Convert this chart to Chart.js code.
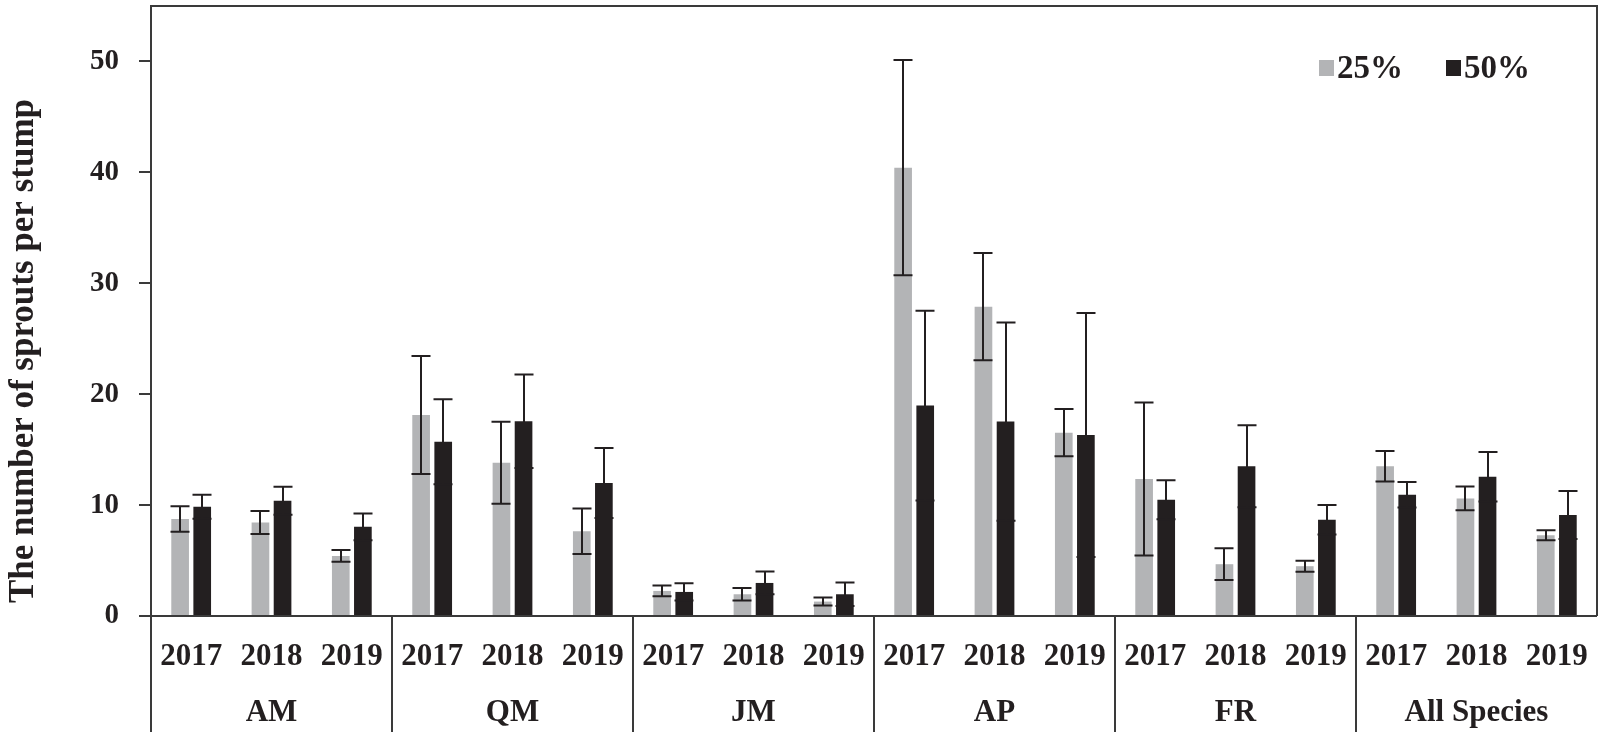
<!DOCTYPE html>
<html><head><meta charset="utf-8">
<style>html,body{margin:0;padding:0;background:#fff}#wrap{width:1600px;height:732px;position:relative}</style>
<script src="https://cdn.jsdelivr.net/npm/chart.js@4/dist/chart.umd.min.js"></script>
</head><body><div id="wrap"><canvas id="c" width="1600" height="732"></canvas></div>
<script>
const species = ['AM', 'QM', 'JM', 'AP', 'FR', 'All Species'];
const years = ['2017', '2018', '2019'];
const seriesNames = ['25%', '50%'];
const mean25 = [8.75, 8.43, 5.42, 18.13, 13.82, 7.65, 2.26, 1.96, 1.30, 40.42, 27.89, 16.53, 12.35, 4.67, 4.49, 13.50, 10.60, 7.29];
const err25  = [1.15, 1.03, 0.53, 5.32, 3.70, 2.05, 0.48, 0.57, 0.36, 9.70, 4.83, 2.13, 6.90, 1.43, 0.50, 1.38, 1.07, 0.45];
const mean50 = [9.85, 10.39, 8.04, 15.72, 17.56, 11.99, 2.17, 2.98, 1.96, 18.97, 17.53, 16.32, 10.48, 13.50, 8.67, 10.93, 12.56, 9.10];
const err50  = [1.08, 1.27, 1.21, 3.83, 4.21, 3.16, 0.78, 1.03, 1.05, 8.55, 8.94, 11.00, 1.75, 3.70, 1.33, 1.15, 2.23, 2.16];
const yTicks = [0, 10, 20, 30, 40, 50];
const yMax = 55;
const yTitle = 'The number of sprouts per stump';

const FONT = "'Liberation Serif', 'Times New Roman', serif";
const INK = '#231f20';
const AXIS = '#3a3a3a';
const GRAY = '#b3b4b6';

const labels = [];
species.forEach(s => years.forEach(y => labels.push(s + '|' + y)));
const errors = [err25, err50];

const errorBars = {
  id: 'errorBars',
  afterDatasetsDraw(chart) {
    const ctx = chart.ctx, ys = chart.scales.y;
    ctx.save();
    ctx.strokeStyle = INK; ctx.lineWidth = 2;
    chart.data.datasets.forEach((ds, di) => {
      const meta = chart.getDatasetMeta(di);
      meta.data.forEach((el, i) => {
        const m = ds.data[i], e = errors[di][i];
        const x = Math.round(el.x);
        const yt = ys.getPixelForValue(m + e), yb = ys.getPixelForValue(m - e);
        ctx.beginPath();
        ctx.moveTo(x, yt); ctx.lineTo(x, yb);
        ctx.moveTo(x - 9.5, yt); ctx.lineTo(x + 9.5, yt);
        ctx.moveTo(x - 9.5, yb); ctx.lineTo(x + 9.5, yb);
        ctx.stroke();
      });
    });
    ctx.restore();
  }
};

const frame = {
  id: 'frame',
  afterDraw(chart) {
    const ctx = chart.ctx, a = chart.chartArea, xs = chart.scales.x, ys = chart.scales.y;
    const H = chart.height;
    const base = ys.getPixelForValue(0);
    ctx.save();
    ctx.strokeStyle = AXIS; ctx.lineWidth = 2;
    ctx.beginPath();
    ctx.moveTo(a.left, H); ctx.lineTo(a.left, a.top);
    ctx.lineTo(a.right, a.top); ctx.lineTo(a.right, base);
    ctx.moveTo(a.left, base); ctx.lineTo(a.right, base);
    for (let g = 1; g < species.length; g++) {
      const xp = (xs.getPixelForValue(g * 3 - 1) + xs.getPixelForValue(g * 3)) / 2;
      ctx.moveTo(xp, base); ctx.lineTo(xp, H);
    }
    ctx.stroke();
    // group labels
    ctx.fillStyle = INK;
    ctx.font = 'bold 31px ' + FONT;
    ctx.textAlign = 'center'; ctx.textBaseline = 'middle';
    species.forEach((s, g) => {
      ctx.fillText(s, xs.getPixelForValue(g * 3 + 1), 713);
    });
    // y title
    ctx.save();
    ctx.translate(24, 351);
    ctx.rotate(-Math.PI / 2);
    ctx.font = 'bold 35px ' + FONT;
    ctx.fillText(yTitle, 0, 0);
    ctx.restore();
    // legend
    ctx.font = 'bold 33px ' + FONT;
    ctx.textAlign = 'left';
    const legX = [1319, 1446];
    chart.data.datasets.forEach((ds, di) => {
      ctx.fillStyle = ds.backgroundColor;
      ctx.fillRect(legX[di], 60, 15, 16);
      ctx.fillStyle = INK;
      ctx.fillText(ds.label, legX[di] + 18, 69);
    });
    ctx.restore();
  }
};

new Chart(document.getElementById('c'), {
  type: 'bar',
  data: {
    labels,
    datasets: [
      { label: seriesNames[0], data: mean25, backgroundColor: GRAY, categoryPercentage: 0.55, barPercentage: 0.8 },
      { label: seriesNames[1], data: mean50, backgroundColor: INK, categoryPercentage: 0.55, barPercentage: 0.8 }
    ]
  },
  options: {
    responsive: false,
    animation: false,
    layout: { padding: { top: 6, right: 3, left: 0, bottom: 0 } },
    plugins: { legend: { display: false }, tooltip: { enabled: false }, title: { display: false } },
    scales: {
      x: {
        grid: { display: false },
        border: { display: false },
        ticks: {
          autoSkip: false, maxRotation: 0, minRotation: 0, padding: 14,
          color: INK, font: { family: FONT, size: 31, weight: 'bold' },
          callback: function(v) { return this.getLabelForValue(v).split('|')[1]; }
        },
        afterFit: s => { s.height = 116; s.paddingLeft = 0; s.paddingRight = 0; }
      },
      y: {
        min: 0, max: yMax,
        grid: { display: true, drawOnChartArea: false, drawTicks: true, tickLength: 12, color: AXIS, lineWidth: 2 },
        border: { display: false },
        ticks: { padding: 20, color: INK, font: { family: FONT, size: 29, weight: 'bold' } },
        afterBuildTicks: s => { s.ticks = yTicks.map(v => ({ value: v })); },
        afterFit: s => { s.width = 151; s.paddingTop = 0; s.paddingBottom = 0; }
      }
    }
  },
  plugins: [errorBars, frame]
});
</script>
</body></html>
